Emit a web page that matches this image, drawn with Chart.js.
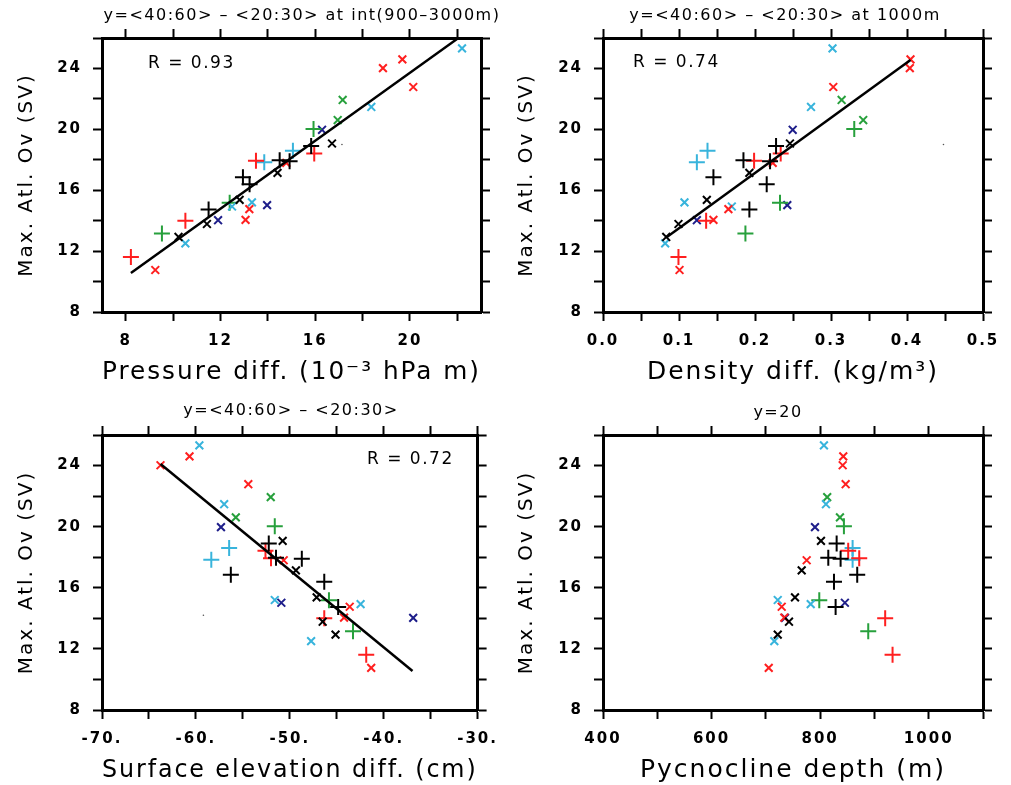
<!DOCTYPE html>
<html>
<head>
<meta charset="utf-8">
<script src="https://cdn.jsdelivr.net/npm/chart.js@4.4.1/dist/chart.umd.min.js"></script>
<style>
  html, body { margin: 0; padding: 0; background: #fff; }
  #wrap { position: relative; width: 1011px; height: 785px; }
  canvas { position: absolute; }
</style>
</head>
<body>
<div id="wrap">
  <canvas id="c1" width="505" height="395" style="left:0;top:0"></canvas>
  <canvas id="c2" width="506" height="395" style="left:505px;top:0"></canvas>
  <canvas id="c3" width="505" height="390" style="left:0;top:395px"></canvas>
  <canvas id="c4" width="506" height="390" style="left:505px;top:395px"></canvas>
</div>
<script>
// marker kind per run: colour letter + symbol (x = cross rotated, + = cross)
const kinds = ['cx','rx','rx','rx','gx','cx','gx','g+','nx','kx','k+','c+','r+','r+','c+','k+','k+','rx','kx','k+',
  'k+','cx','kx','cx','g+','k+','nx','rx','nx','rx','kx','r+','g+','kx','cx','r+','rx']

// Max. Atl. overturning (Sv), same runs in all panels
const overturning = [25.32, 24.6, 24.02, 22.78, 21.93, 21.47, 20.61, 20.02, 19.97, 19.07, 18.9, 18.6, 18.42, 17.94,
  17.83, 17.97, 17.9, 17.8, 17.14, 16.86, 16.4, 15.2, 15.37, 14.93, 15.18, 14.74, 15.02, 14.76, 14.03, 14.05,
  13.78, 14.0, 13.15, 12.93, 12.51, 11.62, 10.76]

const pressureDiff = [22.2, 19.68, 18.86, 20.14, 17.16, 18.37, 16.95, 15.93, 16.29, 16.71, 15.83, 15.06, 15.96, 13.5,
  13.85, 14.5, 14.92, 14.78, 14.41, 12.95, 13.23, 13.33, 12.81, 12.49, 12.39, 11.5, 13.97, 13.22, 11.9, 13.06,
  11.43, 10.52, 9.53, 10.23, 10.52, 8.22, 9.25]

const densityDiff = [0.302, 0.4046, 0.4037, 0.303, 0.314, 0.2737, 0.3424, 0.3306, 0.2496, 0.246, 0.2277, 0.1375,
  0.2338, 0.1988, 0.1235, 0.1848, 0.2198, 0.2233, 0.1926, 0.1453, 0.2154, 0.1072, 0.1366, 0.1695, 0.2329, 0.1926,
  0.2425, 0.165, 0.1235, 0.1453, 0.0993, 0.1357, 0.1874, 0.0832, 0.0818, 0.0993, 0.1007]

const elevationDiff = [-59.63, -60.68, -63.77, -54.42, -52.03, -56.99, -55.75, -51.6, -57.33, -50.76, -52.24, -56.46,
  -52.59, -52.0, -58.36, -51.47, -48.72, -50.65, -49.35, -56.28, -46.33, -51.6, -47.14, -42.46, -45.83, -44.85,
  -50.9, -43.62, -36.86, -44.22, -46.5, -46.33, -43.27, -45.13, -47.73, -41.86, -41.33]

const pycnoDepth = [807, 842.6, 841.5, 847, 813, 810.7, 836.5, 843.8, 790.5, 801.5, 830.4, 859.8, 851.7, 872, 859.8,
  815, 837.7, 775.2, 766, 868.3, 825.5, 721.9, 753.7, 782.6, 798.4, 828.5, 845.6, 729.2, 735.3, 734, 742.6, 919.8,
  888.6, 721.9, 715.6, 933.4, 705.3]

// regression line end points
const pressureFitX = [8.22, 22.03]
const pressureFitY = [10.56, 25.98]
const densityFitX = [0.0832, 0.4046]
const densityFitY = [12.9, 24.55]
const elevationFitX = [-63.77, -36.93]
const elevationFitY = [24.1, 10.55]

// the small single dots
const dotX = [17.13, 0.448, -59.2]
const dotY = [19.0, 19.0, 14.2]

// ticks and labels
const ovTicks = [8, 10, 12, 14, 16, 18, 20, 22, 24, 26]
const ovLabels = [8, 12, 16, 20, 24]
const pressureTicks = [8, 10, 12, 14, 16, 18, 20, 22]
const pressureLabels = [8, 12, 16, 20]
const densityTicks = [0, 0.05, 0.1, 0.15, 0.2, 0.25, 0.3, 0.35, 0.4, 0.45, 0.5]
const densityLabels = [0, 0.1, 0.2, 0.3, 0.4, 0.5]
const elevationTicks = [-70, -65, -60, -55, -50, -45, -40, -35, -30]
const elevationLabels = [-70, -60, -50, -40, -30]
const depthTicks = [400, 500, 600, 700, 800, 900, 1000, 1100]
const depthLabels = [400, 600, 800, 1000]

const colors = { r: '#ff1f1f', g: '#27a03c', c: '#38b4dc', n: '#1e1e8a', k: '#000000' }
const groupOrder = ['k+', 'kx', 'r+', 'rx', 'c+', 'cx', 'g+', 'gx', 'nx']

const tickFont = { family: 'DejaVu Sans', size: 15, weight: 'bold' }
const xTitleFont = { family: 'DejaVu Sans', size: 25 }
const yTitleFont = { family: 'DejaVu Sans', size: 20 }

const textPlugin = {
  id: 'panelText',
  beforeDraw(chart) {
    chart.ctx.letterSpacing = '2px'
  },
  afterDraw(chart) {
    const o = chart.options.plugins.panelText
    const ctx = chart.ctx
    ctx.save()
    ctx.letterSpacing = '1.5px'
    ctx.fillStyle = '#000'
    ctx.textBaseline = 'middle'
    ctx.font = '16px "DejaVu Sans"'
    ctx.textAlign = 'center'
    ctx.fillText(o.title, o.titleX, o.titleY)
    if (o.r) {
      ctx.font = '17px "DejaVu Sans"'
      ctx.textAlign = 'left'
      ctx.fillText(o.r, o.rX, o.rY)
    }
    ctx.restore()
  }
}

function sideScale(pos, min, max, ticks, labels, fmt, size, title, titleFont, titlePad) {
  return {
    type: 'linear',
    position: pos,
    min: min,
    max: max,
    afterBuildTicks: s => { s.ticks = ticks.map(v => ({ value: v })) },
    afterFit: s => {
      if (pos === 'left' || pos === 'right') s.width = size
      else s.height = size
    },
    ticks: {
      autoSkip: false,
      maxRotation: 0,
      padding: 11,
      color: '#000',
      font: tickFont,
      callback: v => (labels && labels.some(l => Math.abs(l - v) < 1e-9)) ? fmt(v) : ''
    },
    grid: { drawOnChartArea: false, drawTicks: true, tickLength: 9, tickWidth: 2, tickColor: '#000' },
    border: { display: true, color: '#000', width: 3 },
    title: title ? { display: true, text: title, color: '#000', font: titleFont, padding: titlePad } : { display: false }
  }
}

function makePanel(id, xs, cfg) {
  const datasets = []
  if (cfg.fitX) {
    datasets.push({
      data: cfg.fitX.map((x, i) => ({ x: x, y: cfg.fitY[i] })),
      showLine: true, borderColor: '#000', borderWidth: 2.5, pointRadius: 0
    })
  }
  groupOrder.forEach(g => {
    const pts = []
    kinds.forEach((k, i) => { if (k === g) pts.push({ x: xs[i], y: overturning[i] }) })
    const plus = g[1] === '+'
    datasets.push({
      data: pts,
      pointStyle: plus ? 'cross' : 'crossRot',
      pointRadius: plus ? 8 : 5.5,
      pointBorderWidth: 2,
      borderColor: colors[g[0]],
      backgroundColor: colors[g[0]]
    })
  })
  if (cfg.dot !== undefined) {
    datasets.push({
      data: [{ x: dotX[cfg.dot], y: dotY[cfg.dot] }],
      pointStyle: 'circle', pointRadius: 0.8, pointBorderWidth: 0,
      backgroundColor: '#555', borderColor: '#555'
    })
  }

  return new Chart(document.getElementById(id), {
    type: 'scatter',
    data: { datasets: datasets },
    options: {
      responsive: false,
      animation: false,
      layout: { padding: 0 },
      plugins: {
        legend: { display: false },
        tooltip: { enabled: false },
        panelText: cfg.text
      },
      scales: {
        x: sideScale('bottom', cfg.xMin, cfg.xMax, cfg.xTicks, cfg.xLabels, cfg.xFmt, cfg.bottom, cfg.xTitle, xTitleFont, { top: 0, bottom: cfg.xTitlePad }),
        x2: sideScale('top', cfg.xMin, cfg.xMax, cfg.xTicks, null, null, cfg.top),
        y: sideScale('left', 8, 26, ovTicks, ovLabels, v => String(v), cfg.left, 'Max. Atl. Ov (SV)', yTitleFont, { top: cfg.yTitlePad, bottom: 0 }),
        y2: sideScale('right', 8, 26, ovTicks, null, null, cfg.right)
      }
    },
    plugins: [textPlugin]
  })
}

makePanel('c1', pressureDiff, {
  xMin: 7, xMax: 23, xTicks: pressureTicks, xLabels: pressureLabels, xFmt: v => String(v),
  xTitle: 'Pressure diff. (10\u207B\u00B3 hPa m)', xTitlePad: 8, yTitlePad: 15,
  left: 102, right: 24, top: 38, bottom: 83,
  fitX: pressureFitX, fitY: pressureFitY, dot: 0,
  text: { title: 'y=<40:60> \u2013 <20:30> at int(900\u20133000m)', titleX: 302, titleY: 16, r: 'R = 0.93', rX: 148, rY: 64 }
})

makePanel('c2', densityDiff, {
  xMin: 0, xMax: 0.5, xTicks: densityTicks, xLabels: densityLabels, xFmt: v => v.toFixed(1),
  xTitle: 'Density diff. (kg/m\u00B3)', xTitlePad: 8, yTitlePad: 10,
  left: 98, right: 28, top: 38, bottom: 83,
  fitX: densityFitX, fitY: densityFitY, dot: 1,
  text: { title: 'y=<40:60> \u2013 <20:30> at 1000m', titleX: 280, titleY: 16, r: 'R = 0.74', rX: 128, rY: 63 }
})

makePanel('c3', elevationDiff, {
  xMin: -70, xMax: -30, xTicks: elevationTicks, xLabels: elevationLabels, xFmt: v => v + '.',
  xTitle: 'Surface elevation diff. (cm)', xTitlePad: 0, yTitlePad: 15,
  left: 102, right: 24, top: 40, bottom: 75,
  fitX: elevationFitX, fitY: elevationFitY, dot: 2,
  text: { title: 'y=<40:60> \u2013 <20:30>', titleX: 291, titleY: 16, r: 'R = 0.72', rX: 367, rY: 65 }
})

makePanel('c4', pycnoDepth, {
  xMin: 400, xMax: 1100, xTicks: depthTicks, xLabels: depthLabels, xFmt: v => String(v),
  xTitle: 'Pycnocline depth (m)', xTitlePad: 0, yTitlePad: 10,
  left: 98, right: 28, top: 40, bottom: 75,
  text: { title: 'y=20', titleX: 273, titleY: 18 }
})
</script>
</body>
</html>
